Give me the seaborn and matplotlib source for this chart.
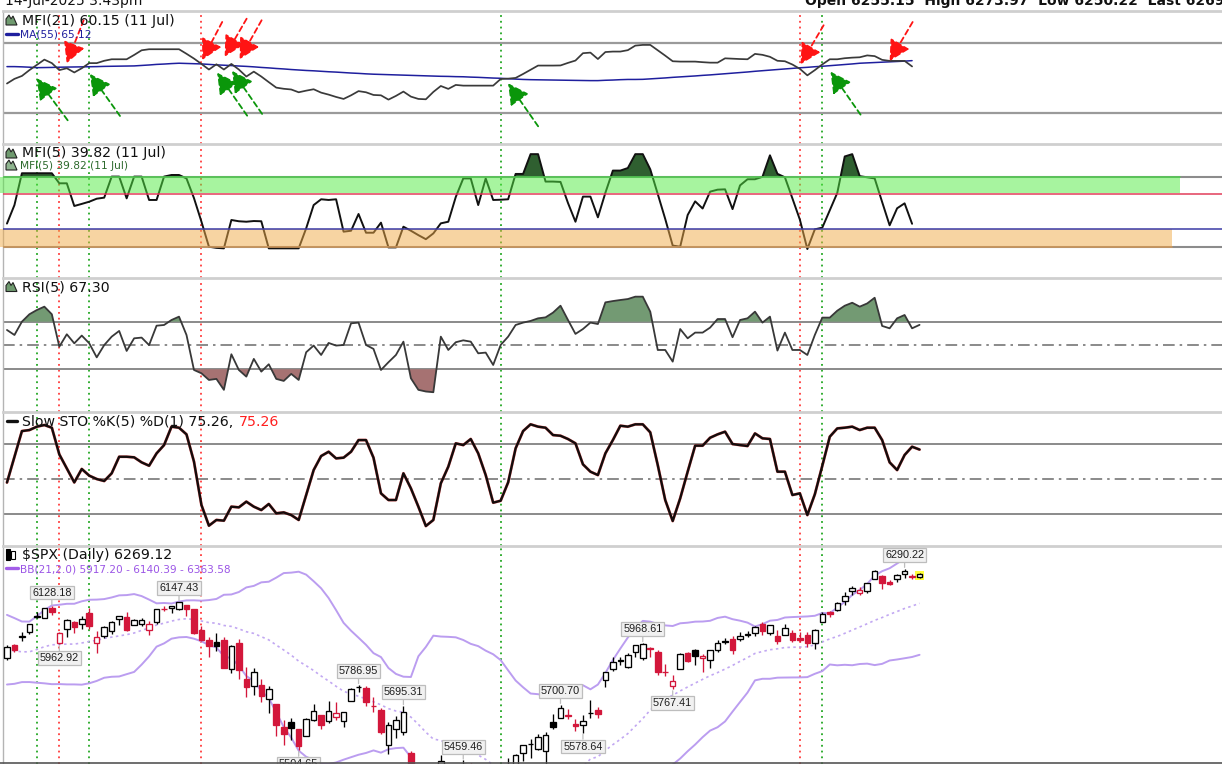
import numpy as np
import pandas as pd
import matplotlib
matplotlib.use("Agg")
import matplotlib.pyplot as plt
from matplotlib.patches import Polygon, Rectangle
from matplotlib.lines import Line2D
import seaborn as sns

# ---- $SPX daily, 15 Jan 2025 .. 14 Jul 2025 (last bar intraday) ----
# closes before the window, only used to seed the BB(21,2)
pre_closes = [6051.09, 6074.08, 6050.61, 5872.16, 5867.08, 5930.85, 5974.07, 6040.04,
              6037.59, 5970.84, 5906.94, 5881.63, 5868.55, 5942.47, 5975.38, 5909.03,
              5918.25, 5827.04, 5836.22, 5842.91]

opens = [5905.21, 5961.90, 5994.00, 6014.12, 6081.39, 6076.32, 6121.43, 5969.04, 6026.97, 6057.70,
         6050.75, 6096.79, 5969.65, 5998.14, 6020.45, 6072.22, 6083.13, 6046.40, 6049.32, 6025.08,
         6060.59, 6115.52, 6121.60, 6117.76, 6134.50, 6114.10, 6026.69, 5982.73, 5970.87, 5981.88,
         5856.74, 5968.33, 5811.98, 5781.39, 5785.87, 5726.01, 5705.37, 5603.65, 5624.84, 5594.45,
         5563.85, 5635.60, 5654.53, 5632.37, 5646.92, 5630.73, 5718.08, 5775.86, 5771.66, 5695.64,
         5679.19, 5527.91, 5597.53, 5580.76, 5492.74, 5292.14, 4953.79, 5193.57, 4965.28, 5353.15,
         5255.56, 5441.96, 5411.99, 5335.75, 5305.45, 5232.94, 5207.67, 5395.92, 5381.38, 5489.73,
         5529.22, 5508.87, 5499.44, 5625.14, 5645.10, 5655.32, 5619.12, 5614.84, 5663.48, 5679.62,
         5807.11, 5854.17, 5891.20, 5865.69, 5929.09, 5902.88, 5944.66, 5928.40, 5841.26, 5781.89,
         5854.07, 5925.76, 5939.86, 5903.67, 5896.68, 5938.56, 5978.94, 5985.67, 5987.06, 6004.60,
         6009.91, 6049.38, 6009.90, 6000.56, 6004.00, 6012.15, 5987.93, 6004.98, 5969.67, 6061.21,
         6104.70, 6112.10, 6150.70, 6193.36, 6187.25, 6193.20, 6246.45, 6259.27, 6233.97, 6245.48,
         6266.37, 6255.68, 6255.15]

highs = [5960.61, 5964.69, 6014.96, 6051.51, 6100.81, 6118.73, 6128.18, 6017.17, 6074.54, 6062.83,
         6086.64, 6120.91, 6022.13, 6042.48, 6062.86, 6084.03, 6101.28, 6073.38, 6076.28, 6063.84,
         6116.91, 6127.47, 6129.63, 6147.43, 6134.50, 6114.82, 6043.65, 5992.65, 6009.82, 5993.69,
         5959.40, 5986.09, 5865.08, 5860.59, 5812.08, 5783.01, 5705.37, 5636.30, 5642.19, 5597.78,
         5645.27, 5703.52, 5654.53, 5715.33, 5711.15, 5670.84, 5775.14, 5786.95, 5783.62, 5732.28,
         5685.89, 5627.56, 5650.57, 5695.31, 5499.53, 5292.14, 5246.57, 5267.47, 5481.34, 5353.15,
         5381.46, 5459.46, 5450.41, 5367.24, 5328.31, 5232.94, 5309.60, 5469.69, 5489.40, 5528.11,
         5553.66, 5571.95, 5581.84, 5658.91, 5700.70, 5683.04, 5640.07, 5655.92, 5720.10, 5691.68,
         5844.19, 5906.63, 5906.11, 5924.52, 5958.62, 5968.61, 5953.06, 5938.37, 5878.08, 5829.51,
         5924.33, 5929.00, 5943.13, 5922.14, 5937.40, 5981.35, 5990.48, 5999.70, 6016.87, 6021.31,
         6043.01, 6059.40, 6045.43, 6026.16, 6050.83, 6023.25, 6018.25, 6018.20, 6028.17, 6101.25,
         6108.51, 6146.52, 6187.68, 6215.08, 6210.78, 6227.60, 6284.65, 6262.32, 6242.70, 6269.16,
         6290.22, 6266.59, 6273.97]

lows = [5896.68, 5930.50, 5978.44, 6006.88, 6076.13, 6074.67, 6088.74, 5962.92, 5994.63, 6012.96,
        6027.46, 6030.93, 5923.93, 5990.87, 6007.06, 6046.83, 6019.96, 6045.36, 6042.34, 6003.00,
        6051.00, 6107.60, 6099.51, 6111.15, 6084.59, 6008.56, 5977.83, 5908.49, 5932.69, 5858.78,
        5837.66, 5810.91, 5732.59, 5742.35, 5711.64, 5666.29, 5564.02, 5528.41, 5546.09, 5504.65,
        5563.85, 5631.12, 5597.76, 5622.20, 5632.55, 5603.10, 5718.08, 5757.16, 5695.52, 5670.94,
        5572.42, 5488.73, 5558.52, 5571.48, 5390.83, 5069.90, 4835.04, 4910.42, 4948.43, 5115.27,
        5220.77, 5358.02, 5386.44, 5220.79, 5255.58, 5101.63, 5207.67, 5356.25, 5371.96, 5455.86,
        5468.64, 5505.70, 5433.24, 5597.35, 5644.13, 5640.65, 5586.30, 5578.64, 5644.10, 5644.36,
        5775.56, 5847.05, 5872.43, 5858.62, 5907.35, 5895.69, 5909.26, 5830.91, 5825.82, 5767.41,
        5854.07, 5886.83, 5873.80, 5843.66, 5861.43, 5929.00, 5966.11, 5921.20, 5978.63, 5994.18,
        6000.26, 6002.32, 6003.88, 5963.21, 6004.00, 5974.80, 5971.89, 5952.56, 5943.23, 6061.21,
        6080.04, 6107.72, 6132.35, 6174.97, 6177.97, 6187.11, 6246.45, 6201.32, 6217.68, 6231.67,
        6251.60, 6244.20, 6250.22]

closes = [5949.91, 5937.34, 5996.66, 6049.24, 6086.37, 6118.71, 6101.24, 6012.28, 6067.70, 6039.31,
          6071.17, 6040.53, 5994.57, 6037.88, 6061.48, 6083.57, 6025.99, 6066.44, 6068.50, 6051.97,
          6115.07, 6114.63, 6129.58, 6144.15, 6117.52, 6013.13, 5983.25, 5955.25, 5956.06, 5861.57,
          5954.50, 5849.72, 5778.15, 5842.63, 5738.52, 5770.20, 5614.56, 5572.07, 5599.30, 5521.52,
          5638.94, 5675.12, 5614.66, 5675.29, 5662.89, 5667.56, 5767.57, 5776.65, 5712.20, 5693.31,
          5580.94, 5611.85, 5633.07, 5670.97, 5396.52, 5074.08, 5062.25, 4982.77, 5456.90, 5268.05,
          5363.36, 5405.97, 5396.63, 5275.70, 5282.70, 5158.20, 5287.76, 5375.86, 5484.77, 5525.21,
          5528.75, 5560.83, 5569.06, 5604.14, 5686.67, 5650.38, 5606.91, 5631.28, 5663.94, 5659.91,
          5844.19, 5886.55, 5892.58, 5916.93, 5958.38, 5963.60, 5940.46, 5844.61, 5842.01, 5802.82,
          5921.54, 5888.55, 5912.17, 5911.69, 5935.94, 5970.37, 5970.81, 5939.30, 6000.36, 6005.88,
          6038.81, 6022.24, 6045.26, 5976.97, 6033.11, 5982.72, 5980.87, 5967.84, 6025.17, 6092.18,
          6092.16, 6141.02, 6173.07, 6204.95, 6198.01, 6227.42, 6279.35, 6229.98, 6225.52, 6263.26,
          6280.46, 6259.75, 6269.12]

# ---- indicators (MFI ends 11 Jul, RSI/STO include the intraday bar) ----
mfi21 = [45.5, 49.5, 52.0, 57.0, 61.5, 66.0, 63.0, 57.0, 58.6, 55.0,
         58.6, 63.0, 63.0, 65.0, 66.3, 66.3, 66.3, 70.0, 74.0, 74.9,
         74.9, 74.9, 74.9, 74.9, 71.0, 66.9, 62.3, 57.5, 62.0, 57.5,
         62.3, 57.5, 51.5, 55.7, 51.5, 46.7, 42.0, 41.0, 40.4, 38.0,
         39.4, 40.6, 37.7, 36.0, 34.0, 32.3, 35.4, 39.0, 38.0, 35.7,
         35.4, 31.7, 34.9, 38.6, 34.3, 32.3, 32.0, 38.3, 43.4, 40.9,
         44.3, 43.7, 43.7, 43.7, 43.7, 43.7, 49.4, 49.7, 50.3, 53.7,
         57.3, 60.9, 60.9, 60.9, 61.0, 63.2, 65.2, 71.5, 72.0, 66.5,
         72.5, 72.9, 72.9, 74.1, 78.0, 78.6, 78.6, 74.0, 69.4, 64.6,
         64.3, 64.3, 64.3, 63.8, 63.4, 63.4, 67.1, 66.8, 66.5, 66.3,
         70.9, 70.1, 68.4, 65.0, 64.6, 61.8, 58.1, 52.5, 57.0, 61.9,
         66.3, 66.3, 67.2, 67.7, 68.0, 69.6, 69.0, 65.8, 64.9, 64.9,
         64.9, 60.15]

ma55 = [60.0, 60.0, 59.8, 59.5, 59.1, 59.2, 59.3, 59.5, 59.6, 59.7,
        59.8, 59.9, 60.0, 60.2, 60.3, 60.4, 60.5, 60.6, 61.0, 61.4,
        61.9, 62.2, 62.6, 62.9, 62.7, 62.5, 62.3, 61.9, 61.5, 61.2,
        60.9, 60.5, 60.2, 59.8, 59.3, 58.9, 58.4, 58.0, 57.5, 57.1,
        56.7, 56.4, 56.0, 55.6, 55.3, 54.9, 54.5, 54.2, 53.8, 53.5,
        53.3, 53.1, 52.9, 52.7, 52.5, 52.3, 52.1, 51.9, 51.7, 51.6,
        51.4, 51.3, 51.0, 50.8, 50.5, 50.2, 50.0, 49.6, 49.3, 49.0,
        48.8, 48.7, 48.6, 48.5, 48.4, 48.3, 48.2, 48.1, 48.0, 48.0,
        48.3, 48.5, 48.8, 49.0, 49.0, 49.1, 49.5, 49.9, 50.3, 50.8,
        51.2, 51.6, 52.0, 52.5, 52.9, 53.4, 53.9, 54.4, 54.9, 55.4,
        56.0, 56.5, 57.0, 57.5, 58.0, 58.5, 59.0, 59.4, 59.9, 60.3,
        60.8, 61.3, 61.8, 62.3, 62.9, 63.2, 63.5, 63.8, 64.1, 64.4,
        64.7, 65.12]

mfi5 = [40.0, 56.0, 83.5, 83.5, 83.5, 83.5, 83.5, 74.8, 74.8, 55.2,
        57.0, 58.9, 61.5, 62.4, 80.6, 80.6, 61.8, 80.6, 80.6, 60.4,
        60.4, 80.6, 82.0, 82.0, 79.0, 62.0, 41.6, 20.0, 19.0, 18.6,
        43.1, 42.0, 41.6, 42.2, 42.0, 18.6, 18.6, 18.6, 18.6, 18.6,
        35.9, 56.0, 61.0, 60.4, 61.0, 33.0, 33.8, 48.3, 32.1, 32.1,
        40.8, 19.4, 19.4, 37.3, 33.8, 30.0, 26.5, 31.5, 40.2, 41.6,
        63.0, 79.0, 79.0, 56.0, 79.0, 60.4, 60.6, 61.0, 82.9, 82.9,
        100.0, 100.0, 76.3, 76.3, 76.0, 57.8, 41.6, 63.3, 63.3, 45.4,
        66.6, 85.8, 85.8, 88.0, 100.0, 100.0, 86.9, 65.6, 44.0, 21.0,
        20.0, 47.4, 59.2, 53.0, 67.6, 69.3, 69.6, 52.5, 73.0, 78.3,
        78.3, 80.4, 99.0, 83.0, 80.0, 61.8, 43.4, 18.0, 35.0, 36.5,
        51.5, 66.5, 98.0, 100.0, 81.0, 80.0, 79.0, 58.6, 38.5, 53.2,
        57.5, 39.82]

rsi5 = [63.0, 58.8, 70.0, 76.2, 79.8, 82.6, 76.2, 49.0, 59.4, 51.8,
        58.3, 51.8, 40.0, 50.3, 57.4, 62.2, 45.4, 56.0, 56.6, 50.3,
        66.6, 67.2, 71.4, 74.2, 58.8, 29.4, 26.6, 21.0, 21.9, 12.7,
        42.6, 29.4, 23.8, 38.7, 28.0, 34.2, 21.9, 20.2, 26.1, 21.0,
        44.3, 49.9, 42.0, 52.1, 49.9, 50.4, 68.6, 69.2, 50.4, 47.1,
        29.4, 35.9, 42.0, 53.2, 22.4, 12.7, 11.3, 10.7, 57.4, 46.2,
        52.7, 54.3, 53.2, 43.4, 44.0, 33.6, 50.4, 57.4, 67.2, 69.2,
        70.6, 72.8, 73.6, 77.6, 83.4, 71.4, 59.7, 63.8, 69.2, 68.0,
        86.2, 87.3, 88.2, 89.0, 91.0, 91.0, 78.4, 46.2, 46.2, 36.4,
        63.8, 56.0, 60.8, 60.8, 65.0, 72.2, 72.2, 56.9, 71.4, 72.8,
        78.4, 69.2, 74.2, 45.7, 60.8, 46.2, 46.2, 42.0, 58.8, 73.4,
        73.4, 79.2, 83.4, 85.9, 82.6, 85.3, 90.1, 66.4, 64.4, 72.8,
        75.6, 64.4, 67.3]

sto5 = [47.0, 69.0, 91.1, 92.0, 94.9, 96.3, 94.0, 71.1, 59.1, 47.1,
        58.6, 52.9, 50.0, 48.3, 54.9, 69.1, 69.1, 68.6, 64.3, 61.4,
        72.0, 79.1, 94.9, 94.0, 88.3, 64.9, 27.7, 10.0, 14.9, 14.3,
        26.3, 25.7, 30.6, 26.3, 23.4, 28.6, 20.6, 21.4, 19.1, 14.9,
        36.3, 57.7, 69.7, 73.4, 67.7, 68.3, 73.4, 83.4, 83.4, 68.3,
        37.7, 32.0, 32.0, 54.9, 42.0, 26.3, 9.7, 14.9, 46.3, 60.6,
        80.6, 79.1, 84.3, 72.0, 53.4, 29.7, 31.4, 47.1, 76.3, 91.1,
        96.9, 94.9, 94.0, 87.7, 87.1, 84.3, 80.6, 62.6, 56.3, 53.4,
        72.0, 83.4, 95.7, 94.9, 96.9, 96.9, 90.0, 62.0, 32.0, 14.0,
        33.4, 56.3, 78.6, 78.6, 85.4, 88.3, 90.6, 80.0, 79.1, 78.3,
        89.1, 84.9, 84.3, 56.3, 56.3, 36.3, 37.7, 19.1, 36.9, 61.4,
        86.3, 93.4, 94.0, 94.9, 92.0, 94.0, 94.0, 83.4, 64.3, 57.7,
        70.6, 77.7, 75.26]

# signal days (bar index) marked with vertical dotted lines
buy_days = [4, 11, 66, 109]
sell_days = [7, 26, 106]

# arrows on the MFI(21) panel: (bar, MFI level at tip, tail dx px, tail dy px)
sell_arrows = [(7.98, 62.9, 17, 43), (26.1, 65.7, 20, 38), (29.1, 68.5, 22, 38),
               (31.1, 66.3, 22, 39), (106.1, 62.0, 23, 39), (118.0, 64.8, 23, 39)]
buy_arrows = [(3.97, 50.0, 31, -42), (11.1, 53.7, 30, -42), (28.1, 54.8, 30, -43),
              (30.1, 56.3, 30, -43), (67.0, 45.7, 30, -43), (110.1, 55.7, 30, -43)]

# price call-outs: (bar, 'high' or 'low')
callouts = [(6, "high"), (7, "low"), (23, "high"), (39, "low"), (47, "high"), (53, "high"),
            (61, "high"), (74, "high"), (77, "low"), (85, "high"), (89, "low"), (120, "high")]

sns.set_theme(style="white")
plt.rcParams["font.family"] = ["DejaVu Sans"]

W, H = 1222, 764
fig = plt.figure(figsize=(W / 100, H / 100), dpi=100)

X_LEFT, X_RIGHT = -0.49, 162.7


def panel(top, bottom):
    ax = fig.add_axes([3.3 / W, 1 - bottom / H, (1224 - 3.3) / W, (bottom - top) / H])
    ax.set_xlim(X_LEFT, X_RIGHT)
    ax.set_xticks([])
    ax.set_yticks([])
    ax.set_facecolor("white")
    for s in ["right", "bottom"]:
        ax.spines[s].set_visible(False)
    ax.spines["top"].set_color("#cfcfcf")
    ax.spines["top"].set_linewidth(2)
    ax.spines["left"].set_color("#b4b4b4")
    ax.spines["left"].set_linewidth(1)
    return ax


ax1 = panel(10.5, 143.5)
ax2 = panel(143.5, 277.5)
ax3 = panel(277.5, 411.5)
ax4 = panel(411.5, 545.5)
ax5 = panel(545.5, 764)
ax1.set_ylim(-5.9, 108.1)
ax2.set_ylim(-6.6, 109.2)
ax3.set_ylim(-5.5, 107.1)
ax4.set_ylim(-7.0, 107.9)
ax5.set_ylim(5444.0, 6391.0)

d_mfi = np.arange(len(mfi21))
d_all = np.arange(len(closes))
mfi5_a = np.array(mfi5)
rsi_a = np.array(rsi5)

arrow_style = "-|>,head_length=0.45,head_width=0.24"

# ---- MFI(21) with MA(55) ----
for lvl in (80, 20):
    ax1.axhline(lvl, color="#9a9a9a", lw=1.6, zorder=1)
sns.lineplot(x=d_mfi, y=ma55, ax=ax1, color="#1f1f9e", linewidth=1.1, legend=False, zorder=3)
sns.lineplot(x=d_mfi, y=mfi21, ax=ax1, color="#3a3a3a", linewidth=1.25, legend=False, zorder=4)
for xi, yv, dx, dy in sell_arrows:
    ax1.annotate("", xy=(xi, yv), xytext=(dx * 0.72, dy * 0.72), textcoords="offset points",
                 annotation_clip=False,
                 arrowprops=dict(arrowstyle=arrow_style, color="#ff1414", lw=1.3,
                                 linestyle=(0, (3, 2)), shrinkA=0, shrinkB=0,
                                 mutation_scale=28), zorder=6)
for xi, yv, dx, dy in buy_arrows:
    ax1.annotate("", xy=(xi, yv), xytext=(dx * 0.72, dy * 0.72), textcoords="offset points",
                 annotation_clip=False,
                 arrowprops=dict(arrowstyle=arrow_style, color="#0a960a", lw=1.3,
                                 linestyle=(0, (3, 2)), shrinkA=0, shrinkB=0,
                                 mutation_scale=28), zorder=6)

# ---- MFI(5) ----
for lvl in (80, 20):
    ax2.axhline(lvl, color="#8c8c8c", lw=1.5, zorder=1)
ax2.fill_between(d_mfi, 80, mfi5_a, where=mfi5_a >= 80, interpolate=True, color="#2f5f30", lw=0, zorder=2)
ax2.fill_between(d_mfi, mfi5_a, 20, where=mfi5_a <= 20, interpolate=True, color="#5b2c2c", lw=0, zorder=2)
sns.lineplot(x=d_mfi, y=mfi5, ax=ax2, color="#111111", linewidth=1.4, legend=False, zorder=3)
band_left = (0 - 7) / 7.48
ax2.add_patch(Rectangle((band_left, 66.2), (1180 - 7) / 7.48 - band_left, 13.8, facecolor="#51eb41",
                        alpha=0.5, lw=0, zorder=4, clip_on=False))
ax2.add_patch(Rectangle((band_left, 20.0), (1172 - 7) / 7.48 - band_left, 15.3, facecolor="#f1ab47",
                        alpha=0.5, lw=0, zorder=4, clip_on=False))
ax2.axhline(80, xmax=(1180 - 3.3) / 1220.7, color="#55c855", lw=1.2, zorder=5)
ax2.axhline(65.6, color="#e23d5a", lw=1.1, zorder=5)
ax2.axhline(35.3, color="#3a3aa6", lw=1.1, zorder=5)
ax2.axhline(20, xmax=(1172 - 3.3) / 1220.7, color="#c9955c", lw=1.2, zorder=5)

# ---- RSI(5) ----
ax3.axhline(70, color="#8a8a8a", lw=1.4, zorder=1)
ax3.axhline(30, color="#8a8a8a", lw=1.4, zorder=1)
ax3.axhline(50, color="#777777", lw=1.2, linestyle=(0, (7, 3, 1.5, 3)), zorder=1)
ax3.fill_between(d_all, 70, rsi_a, where=rsi_a >= 70, interpolate=True, color="#739a73", lw=0, zorder=2)
ax3.fill_between(d_all, rsi_a, 30, where=rsi_a <= 30, interpolate=True, color="#a67272", lw=0, zorder=2)
sns.lineplot(x=d_all, y=rsi5, ax=ax3, color="#383838", linewidth=1.3, legend=False, zorder=3)

# ---- Slow STO (%K black over %D red) ----
ax4.axhline(80, color="#8a8a8a", lw=1.4, zorder=1)
ax4.axhline(20, color="#8a8a8a", lw=1.4, zorder=1)
ax4.axhline(50, color="#777777", lw=1.2, linestyle=(0, (7, 3, 1.5, 3)), zorder=1)
sns.lineplot(x=d_all, y=sto5, ax=ax4, color="#ff2020", linewidth=2.1, alpha=0.55, legend=False, zorder=3)
sns.lineplot(x=d_all, y=sto5, ax=ax4, color="#140c0c", linewidth=1.75, legend=False, zorder=4)

# ---- price with Bollinger Bands ----
all_close = pd.Series(pre_closes + closes)
bb_mid = all_close.rolling(21).mean().to_numpy()[len(pre_closes):]
bb_sd = all_close.rolling(21).std(ddof=0).to_numpy()[len(pre_closes):]
sns.lineplot(x=d_all, y=bb_mid + 2 * bb_sd, ax=ax5, color="#bb9df0", linewidth=1.4, legend=False, zorder=1)
sns.lineplot(x=d_all, y=bb_mid - 2 * bb_sd, ax=ax5, color="#bb9df0", linewidth=1.4, legend=False, zorder=1)
sns.lineplot(x=d_all, y=bb_mid, ax=ax5, color="#c2a8f2", linewidth=1.2, linestyle=(0, (1.5, 2)),
             legend=False, zorder=1)

o = np.array(opens)
c = np.array(closes)
prev_c = np.concatenate([[pre_closes[-1]], c[:-1]])
red = "#d3173b"
edge = np.where(c < prev_c, red, "#000000")
face = np.where(c < o, edge, "#ffffff")

# highlight box behind the live bar
last = len(closes) - 1
ax5.add_patch(Rectangle((last - 0.6, (o[last] + c[last]) / 2 - 19), 1.2, 38, facecolor="#ffff3a",
                        edgecolor="none", zorder=1.5))
ax5.vlines(d_all, lows, highs, colors=edge, lw=0.95, zorder=2)
body_bottom = np.minimum(o, c)
body_h = np.maximum(np.abs(c - o), 1.0)
ax5.bar(d_all, body_h, bottom=body_bottom, width=0.74, color=face, edgecolor=edge, linewidth=0.95, zorder=3)

for i, kind in callouts:
    val = highs[i] if kind == "high" else lows[i]
    off = 9.8 if kind == "high" else -9.8
    ax5.annotate(f"{val:.2f}", xy=(i, val), xytext=(0, off), textcoords="offset points",
                 ha="center", va="center", fontsize=7.8, family=["Liberation Sans", "DejaVu Sans"],
                 color="#1e1e1e", zorder=6,
                 bbox=dict(boxstyle="square,pad=0.18", fc="#f1f1f1", ec="#bdbdbd", lw=0.9),
                 arrowprops=dict(arrowstyle="-", color="#bdbdbd", lw=0.9, shrinkA=0, shrinkB=1))

# vertical signal lines through every panel
for ax in (ax1, ax2, ax3, ax4, ax5):
    for dday in buy_days:
        ax.axvline(dday, color="#22a722", lw=1.3, linestyle=(0, (1, 2.2)), zorder=0.5)
    for dday in sell_days:
        ax.axvline(dday, color="#ff3b3b", lw=1.3, linestyle=(0, (1, 2.2)), zorder=0.5)


# ---- legends / titles (pixel positions from the top-left) ----
def ftext(x, y, s, **kw):
    return fig.text(x / W, 1 - y / H, s, va="baseline", ha="left", **kw)


def fline(x0, x1, y, color):
    fig.add_artist(Line2D([x0 / W, x1 / W], [1 - y / H, 1 - y / H], color=color, lw=2.4))


def area_icon(x, y, fc):
    pts = [(x, y + 5), (x, y - 1), (x + 3, y - 5), (x + 5, y - 1), (x + 7, y - 4), (x + 11, y + 5)]
    fig.add_artist(Polygon([(px / W, 1 - py / H) for px, py in pts], closed=True, facecolor=fc,
                           edgecolor="#222222", lw=0.8))


# header line, mostly scrolled off the top as in the screenshot
ftext(5, 5.0, "14-Jul-2025 3:43pm", fontsize=10, color="#111111")
ftext(805, 5.0, "Open 6255.15  High 6273.97  Low 6250.22  Last 6269.12  Chg +9.37 (+0.15%)",
      fontsize=10, fontweight="bold", color="#111111")

area_icon(6, 20, "#6f9a6f")
ftext(21.5, 25, "MFI(21) 60.15 (11 Jul)", fontsize=10.2, color="#111111")
fline(6, 18, 33.5, "#1f1f9e")
ftext(19.5, 37.3, "MA(55) 65.12", fontsize=7.7, color="#1f1f9e")

area_icon(6, 153, "#6f9a6f")
ftext(21.5, 157.3, "MFI(5) 39.82 (11 Jul)", fontsize=10.2, color="#111111")
area_icon(6, 165, "#8fb48f")
ftext(19.5, 169.3, "MFI(5) 39.82 (11 Jul)", fontsize=7.7, color="#2d6a2d")

area_icon(6, 286.5, "#6f9a6f")
ftext(21.5, 291, "RSI(5) 67.30", fontsize=10.2, color="#111111")

fline(7, 17, 421, "#111111")
t = ftext(22.5, 425.7, "Slow STO %K(5) %D(1) 75.26,", fontsize=10.2, color="#111111")
fig.canvas.draw()
bb = t.get_window_extent(fig.canvas.get_renderer())
ftext(bb.x1 + 5, 425.7, "75.26", fontsize=10.2, color="#ff2020")

for x0, y0, y1, fc in [(6, 549, 560, "#000000"), (11, 551, 559, "#ffffff")]:
    fig.add_artist(Rectangle((x0 / W, 1 - y1 / H), 3.5 / W, (y1 - y0) / H, facecolor=fc,
                             edgecolor="#000000", lw=0.8))
ftext(22.5, 559.3, "$SPX (Daily) 6269.12", fontsize=10.2, color="#111111")
fline(6, 18, 567.5, "#a35ee8")
ftext(19.5, 572, "BB(21,2.0) 5917.20 - 6140.39 - 6363.58", fontsize=7.6, color="#9b55e6")

fig.add_artist(Line2D([0, 1], [0.6 / H, 0.6 / H], color="#555555", lw=1.2))

fig.savefig("out.png", dpi=100)
